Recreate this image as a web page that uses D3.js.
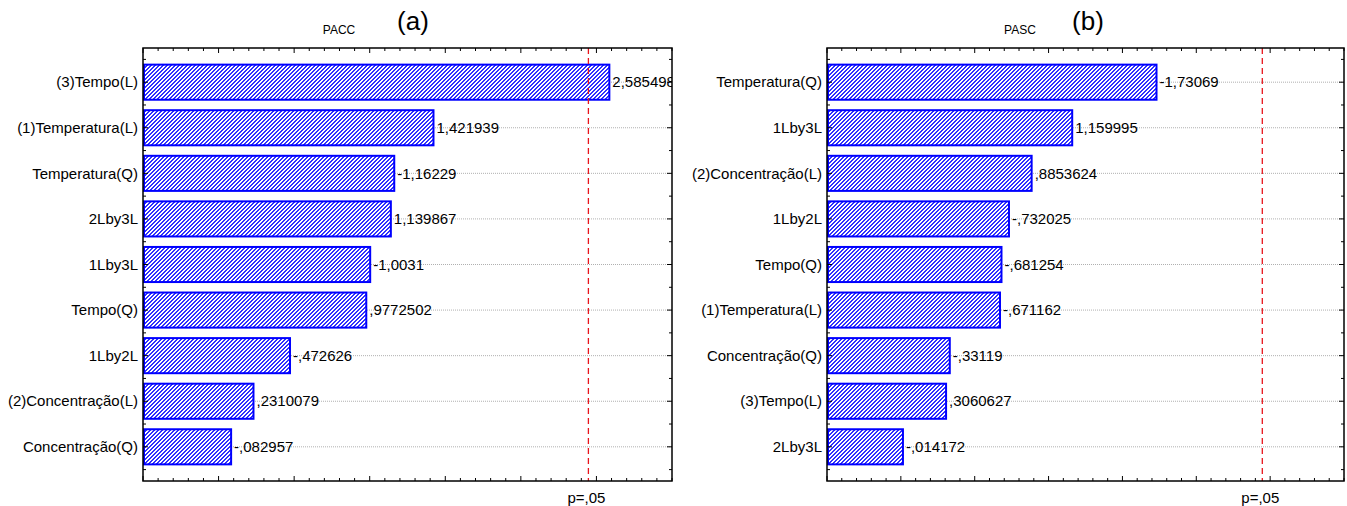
<!DOCTYPE html>
<html>
<head>
<meta charset="utf-8">
<script src="https://cdn.jsdelivr.net/npm/d3@7"></script>
<style>
  html, body { margin: 0; padding: 0; background: #fff; }
  svg { display: block; }
  text { font-family: "Liberation Sans", Arial, sans-serif; }
</style>
</head>
<body>
<svg id="chart" width="1347" height="506"></svg>
<script>
// Pareto charts of standardized effects for two responses
const paccFactors = ["(3)Tempo(L)", "(1)Temperatura(L)", "Temperatura(Q)", "2Lby3L", "1Lby3L",
  "Tempo(Q)", "1Lby2L", "(2)Concentração(L)", "Concentração(Q)"];
const paccEffects = [2.585498, 1.421939, -1.16229, 1.139867, -1.0031, 0.9772502, -0.472626, 0.2310079, -0.082957];

const pascFactors = ["Temperatura(Q)", "1Lby3L", "(2)Concentração(L)", "1Lby2L", "Tempo(Q)",
  "(1)Temperatura(L)", "Concentração(Q)", "(3)Tempo(L)", "2Lby3L"];
const pascEffects = [-1.73069, 1.159995, 0.8853624, -0.732025, -0.681254, -0.671162, -0.33119, 0.3060627, -0.014172];

// critical t value at p = 0.05
const pCritical = 2.4469;
const pLabel = "p=,05";
const xDomain = [-0.5, 3.0];

const panels = [
  { title: "PACC", tag: "(a)", factors: paccFactors, effects: paccEffects,
    left: 143, right: 672, titleX: 339, tagX: 413 },
  { title: "PASC", tag: "(b)", factors: pascFactors, effects: pascEffects,
    left: 827, right: 1344, titleX: 1020, tagX: 1088 }
];
const plotTop = 48, plotBottom = 481;

const svg = d3.select("#chart");
const defs = svg.append("defs");

// pixel-aligned "/" hatch fill for the bars
const hatch = defs.append("pattern")
  .attr("id", "hatch")
  .attr("patternUnits", "userSpaceOnUse")
  .attr("width", 4).attr("height", 4);
hatch.append("rect").attr("width", 4).attr("height", 4).attr("fill", "#ffffff");
const hatchCells = [];
for (let r = 0; r < 4; r++) {
  hatchCells.push([(3 - r + 4) % 4, r], [(4 - r) % 4, r]);
}
hatch.selectAll("rect.px").data(hatchCells).join("rect")
  .attr("class", "px")
  .attr("x", d => d[0]).attr("y", d => d[1])
  .attr("width", 1).attr("height", 1)
  .attr("fill", "#3030ff")
  .attr("shape-rendering", "crispEdges");

// Statistica-style number text: 7 significant digits, comma decimal, no leading zero
function fmt(v) {
  let s = v.toPrecision(7);
  if (s.indexOf(".") >= 0) s = s.replace(/0+$/, "").replace(/\.$/, "");
  s = s.replace(/^(-?)0\./, "$1.");
  return s.replace(".", ",");
}

panels.forEach((p, pi) => {
  const g = svg.append("g");
  const x = d3.scaleLinear().domain(xDomain).range([p.left, p.right]);
  const y = d3.scaleBand().domain(p.factors).range([plotTop, plotBottom])
    .paddingInner(0.23).paddingOuter(0.365);
  const clipId = "clip" + pi;
  defs.append("clipPath").attr("id", clipId)
    .append("rect").attr("x", p.left).attr("y", plotTop)
    .attr("width", p.right - p.left).attr("height", plotBottom - plotTop);

  const rows = p.factors.map((f, i) => ({ f, v: p.effects[i] }));
  const cy = d => y(d.f) + y.bandwidth() / 2;

  // dotted gridlines at each factor
  g.selectAll(".grid").data(rows).join("line")
    .attr("x1", p.left).attr("x2", p.right)
    .attr("y1", cy).attr("y2", cy)
    .attr("stroke", "#b0b0b0").attr("stroke-width", 1)
    .attr("stroke-dasharray", "1,1");

  // bars of absolute standardized effect
  g.selectAll(".bar").data(rows).join("rect")
    .attr("x", x(xDomain[0]) + 1)
    .attr("y", d => y(d.f))
    .attr("width", d => x(Math.abs(d.v)) - x(xDomain[0]) - 1)
    .attr("height", y.bandwidth())
    .attr("fill", "url(#hatch)")
    .attr("stroke", "#0000ff").attr("stroke-width", 2);

  // significance threshold
  g.append("line")
    .attr("x1", x(pCritical)).attr("x2", x(pCritical))
    .attr("y1", plotTop).attr("y2", plotBottom)
    .attr("stroke", "#e8141c").attr("stroke-width", 1.3)
    .attr("stroke-dasharray", "6,4");

  // value labels, clipped at the frame
  g.append("g").attr("clip-path", `url(#${clipId})`)
    .selectAll("text").data(rows).join("text")
    .attr("x", d => x(Math.abs(d.v)) + 3)
    .attr("y", cy).attr("dy", "0.35em")
    .attr("font-size", 15).attr("fill", "#000")
    .text(d => fmt(d.v));

  // factor labels
  g.selectAll(".cat").data(rows).join("text")
    .attr("x", p.left - 5).attr("y", cy).attr("dy", "0.35em")
    .attr("text-anchor", "end").attr("font-size", 15).attr("fill", "#000")
    .text(d => d.f);

  // ticks on the four sides, pointing inward
  const majorX = d3.range(0, 31, 5).map(k => k / 10 - 0.5);
  const minorX = d3.range(0, 36).map(k => k / 10 - 0.5).filter(v => !majorX.some(m => Math.abs(m - v) < 1e-9));
  const tickG = g.append("g").attr("stroke", "#000").attr("stroke-width", 1);
  [[majorX, 5], [minorX, 3]].forEach(([vals, len]) => {
    tickG.selectAll(null).data(vals).join("line")
      .attr("x1", d => x(d)).attr("x2", d => x(d))
      .attr("y1", plotBottom).attr("y2", plotBottom - len);
    tickG.selectAll(null).data(vals).join("line")
      .attr("x1", d => x(d)).attr("x2", d => x(d))
      .attr("y1", plotTop).attr("y2", plotTop + len);
  });
  const majorY = rows.map(cy);
  const step = y.step();
  const minorY = d3.range(0, rows.length + 1).map(i => majorY[0] - step / 2 + i * step)
    .filter(v => v > plotTop + 1 && v < plotBottom - 1);
  [[majorY, 5], [minorY, 3]].forEach(([vals, len]) => {
    tickG.selectAll(null).data(vals).join("line")
      .attr("x1", p.left).attr("x2", p.left + len)
      .attr("y1", d => d).attr("y2", d => d);
    tickG.selectAll(null).data(vals).join("line")
      .attr("x1", p.right).attr("x2", p.right - len)
      .attr("y1", d => d).attr("y2", d => d);
  });

  // frame
  g.append("rect")
    .attr("x", p.left).attr("y", plotTop)
    .attr("width", p.right - p.left).attr("height", plotBottom - plotTop)
    .attr("fill", "none").attr("stroke", "#000").attr("stroke-width", 1.5);

  // threshold label under the axis
  g.append("text")
    .attr("x", x(pCritical) - 2).attr("y", 503)
    .attr("text-anchor", "middle").attr("font-size", 15).attr("fill", "#000")
    .text(pLabel);

  // titles
  g.append("text")
    .attr("x", p.titleX).attr("y", 34)
    .attr("text-anchor", "middle").attr("font-size", 12).attr("fill", "#000")
    .text(p.title);
  g.append("text")
    .attr("x", p.tagX).attr("y", 30)
    .attr("text-anchor", "middle").attr("font-size", 26)
    .attr("font-family", "'Liberation Serif', 'Times New Roman', serif")
    .attr("fill", "#000")
    .text(p.tag);
});
</script>
</body>
</html>
